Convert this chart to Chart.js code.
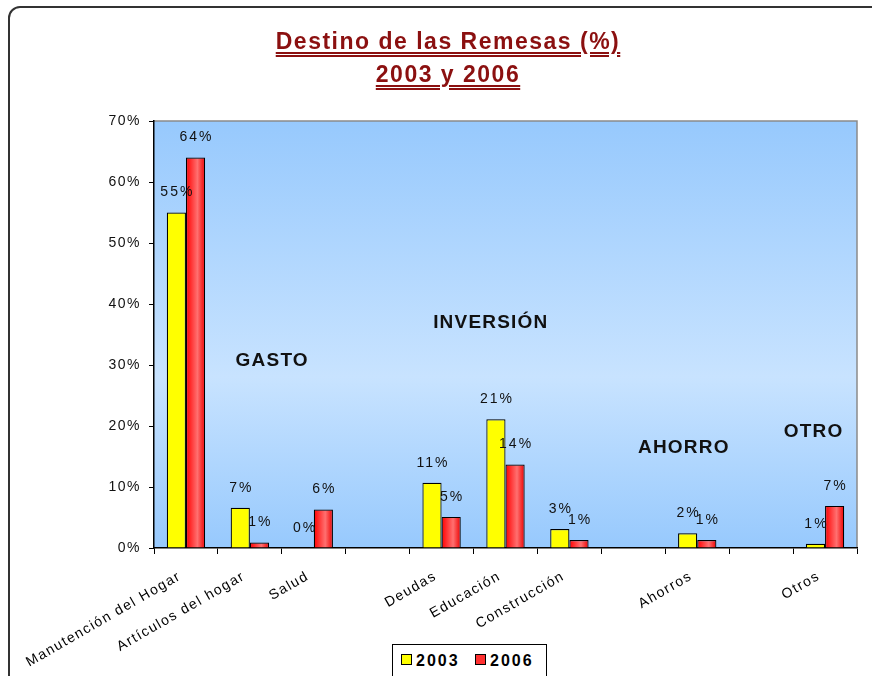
<!DOCTYPE html>
<html>
<head>
<meta charset="utf-8">
<script src="https://cdn.jsdelivr.net/npm/chart.js@4"></script>
<style>
	html, body { margin: 0; padding: 0; background: #ffffff; overflow: hidden; }
	#wrap { position: relative; width: 872px; height: 676px; overflow: hidden; }
	#frame {
		position: absolute; left: 8px; top: 6px; width: 900px; height: 720px;
		border: 2px solid #333333; border-radius: 12px; box-sizing: border-box;
	}
	#chart { position: absolute; left: 0; top: 0; }
	.title {
		position: absolute; left: 0; width: 896px; text-align: center;
		font-family: "Liberation Sans", Arial, sans-serif; font-weight: bold;
		font-size: 23px; letter-spacing: 1.5px; color: #8b1010;
		text-decoration: underline double; text-underline-offset: 3px;
	}
	#legend {
		position: absolute; left: 392px; top: 644px; width: 155px; height: 40px;
		border: 1.5px solid #000000; background: #ffffff; box-sizing: border-box;
		font-family: "Liberation Sans", Arial, sans-serif; font-weight: bold;
		font-size: 16px; letter-spacing: 2px; color: #000000;
	}
	#legend span.item { position: absolute; top: 7px; }
	#legend span.box {
		display: inline-block; width: 9px; height: 9px; border: 1px solid #000000;
		margin-right: 4px; vertical-align: 1px;
	}
</style>
</head>
<body>
<div id="wrap">
	<div id="frame"></div>
	<canvas id="chart" width="872" height="676"></canvas>
	<div class="title" style="top:28px">Destino de las Remesas (%)</div>
	<div class="title" style="top:61px">2003 y 2006</div>
	<div id="legend">
		<span class="item" style="left:8px"><span class="box" style="background:#ffff00"></span>2003</span>
		<span class="item" style="left:82px"><span class="box" style="background:#ff3030"></span>2006</span>
	</div>
</div>
<script>
// categorias (las vacias separan los grupos)
const categories = ["Manutención del Hogar", "Artículos del hogar", "Salud", "", "Deudas", "Educación", "Construcción", "", "Ahorros", "", "Otros"]
const values2003 = [55, 6.6, 0, null, 10.7, 21.1, 3.1, null, 2.4, null, 0.7]
const values2006 = [64, 0.9, 6.3, null, 5.1, 13.7, 1.3, null, 1.3, null, 6.9]
const yTicks = [0, 10, 20, 30, 40, 50, 60, 70]
const groupNames = ["GASTO", "INVERSIÓN", "AHORRO", "OTRO"]

const font = "'Liberation Sans', Arial, sans-serif"

// el texto de Excel va mas espaciado
const spacing = {
	id: "spacing",
	beforeUpdate(chart) { chart.ctx.letterSpacing = "1.5px" },
	beforeDraw(chart) { chart.ctx.letterSpacing = "1.5px" }
}

// fondo degradado del area de trazado
const plotBackground = {
	id: "plotBackground",
	beforeDraw(chart) {
		const a = chart.chartArea
		const ctx = chart.ctx
		const g = ctx.createLinearGradient(0, a.top, 0, a.bottom)
		g.addColorStop(0, "#97c9fd")
		g.addColorStop(0.6, "#c8e3ff")
		g.addColorStop(1, "#97c9fd")
		ctx.save()
		ctx.fillStyle = g
		ctx.fillRect(a.left, a.top, a.right - a.left, a.bottom - a.top)
		ctx.strokeStyle = "#8a8a8a"
		ctx.lineWidth = 1.5
		ctx.beginPath()
		ctx.moveTo(a.left, a.top)
		ctx.lineTo(a.right, a.top)
		ctx.lineTo(a.right, a.bottom)
		ctx.stroke()
		ctx.restore()
	}
}

// etiquetas de valor y nombres de grupo
const barLabels = {
	id: "barLabels",
	afterDatasetsDraw(chart) {
		const ctx = chart.ctx
		ctx.save()
		ctx.font = "14px " + font
		ctx.letterSpacing = "2px"
		ctx.fillStyle = "#111111"
		ctx.textAlign = "center"
		ctx.textBaseline = "middle"
		chart.data.datasets.forEach((ds, di) => {
			chart.getDatasetMeta(di).data.forEach((bar, i) => {
				const v = ds.data[i]
				if(v === null) return
				ctx.fillText(Math.round(v) + "%", bar.x + 1, bar.y - 20)
			})
		})

		const x = chart.scales.x
		const y = chart.scales.y
		const spots = [[1.35, 30.7], [4.77, 37.0], [7.79, 16.4], [9.82, 19.0]]
		ctx.font = "bold 19px " + font
		ctx.letterSpacing = "1.2px"
		groupNames.forEach((name, i) => {
			ctx.fillText(name, x.getPixelForValue(spots[i][0]), y.getPixelForValue(spots[i][1]))
		})
		ctx.restore()
	}
}

function redFill(c) {
	const chart = c.chart
	const x = chart.scales.x
	if(!x || !chart.chartArea || c.type !== "data") return "#ff2020"
	const center = x.getPixelForValue(c.dataIndex)
	const w = (x.width / categories.length) * 0.6 / 2
	const g = chart.ctx.createLinearGradient(center, 0, center + w, 0)
	g.addColorStop(0, "#ff0000")
	g.addColorStop(0.6, "#ff7070")
	g.addColorStop(1, "#ee0000")
	return g
}

new Chart(document.getElementById("chart"), {
	type: "bar",
	data: {
		labels: categories,
		datasets: [{
			label: "2003",
			data: values2003,
			backgroundColor: "#ffff00",
			borderColor: "#000000",
			borderWidth: 1.2,
			borderSkipped: "bottom"
		}, {
			label: "2006",
			data: values2006,
			backgroundColor: redFill,
			borderColor: "#000000",
			borderWidth: 1.2,
			borderSkipped: "bottom"
		}]
	},
	options: {
		responsive: false,
		animation: false,
		events: [],
		datasets: { bar: { categoryPercentage: 0.6, barPercentage: 1.0 } },
		layout: { padding: { top: 121, left: 94, right: 15, bottom: 0 } },
		plugins: {
			legend: { display: false },
			title: { display: false },
			tooltip: { enabled: false }
		},
		scales: {
			x: {
				afterFit: (s) => { s.height = 128 },
				grid: { display: true, drawOnChartArea: false, offset: true, color: "#000000", tickLength: 6 },
				border: { display: true, color: "#000000", width: 1.5 },
				ticks: {
					font: { family: font, size: 14 },
					color: "#000000",
					minRotation: 30,
					maxRotation: 30,
					padding: 14,
					labelOffset: -6,
					autoSkip: false
				}
			},
			y: {
				min: 0,
				max: 70,
				afterFit: (s) => { s.width = 60 },
				afterBuildTicks: (s) => { s.ticks = yTicks.map(v => ({ value: v })) },
				grid: { display: true, drawOnChartArea: false, color: "#000000", tickLength: 5 },
				border: { display: true, color: "#000000", width: 1.5 },
				ticks: {
					font: { family: font, size: 14 },
					color: "#111111",
					padding: 8,
					callback: (v) => v + "%"
				}
			}
		}
	},
	plugins: [spacing, plotBackground, barLabels]
})
</script>
</body>
</html>
